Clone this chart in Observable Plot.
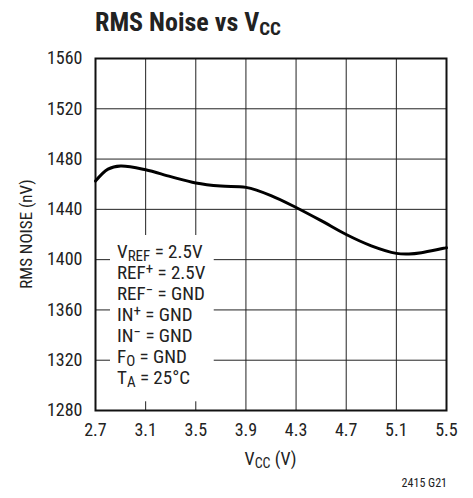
<!DOCTYPE html>
<html>
<head>
<meta charset="utf-8">
<script src="https://cdn.jsdelivr.net/npm/d3@7"></script>
<script src="https://cdn.jsdelivr.net/npm/@observablehq/plot@0.6"></script>
<style>
  html, body { margin: 0; padding: 0; background: #fff; }
  body { width: 473px; height: 498px; overflow: hidden; font-family: "Roboto Condensed", "Liberation Sans", sans-serif; }
  #title { position: relative; height: 44px; }
  #title span.t { position: absolute; left: 95px; top: 9px; font-size: 26px; line-height: 26px; font-weight: bold; color: #222; white-space: nowrap; }
  #title span.sub { font-size: 19px; vertical-align: -4px; }
</style>
</head>
<body>
<div id="title"><span class="t">RMS Noise vs V<span class="sub">CC</span></span></div>
<div id="chart"></div>
<script>
// ---- data ----
const vcc   = [2.7, 2.8, 2.9, 3.1, 3.3, 3.5, 3.7, 3.9, 4.1, 4.3, 4.5, 4.7, 4.9, 5.1, 5.2, 5.3, 5.5];
const noise = [1462.5, 1472, 1474.5, 1471.5, 1466, 1461, 1458.5, 1457.5, 1451, 1441.5, 1431, 1420, 1411, 1405, 1404.5, 1405.5, 1409.5];
const xTicks = [2.7, 3.1, 3.5, 3.9, 4.3, 4.7, 5.1, 5.5];
const yTicks = [1280, 1320, 1360, 1400, 1440, 1480, 1520, 1560];
const conditions = [
  [["V", ""], ["REF", "sub"], [" = 2.5V", ""]],
  [["REF", ""], ["+", "sup"], [" = 2.5V", ""]],
  [["REF", ""], ["\u2212", "sup"], [" = GND", ""]],
  [["IN", ""], ["+", "sup"], [" = GND", ""]],
  [["IN", ""], ["\u2212", "sup"], [" = GND", ""]],
  [["F", ""], ["O", "sub"], [" = GND", ""]],
  [["T", ""], ["A", "sub"], [" = 25\u00B0C", ""]]
];
const xLabel = [["V", ""], ["CC", "sub"], [" (V)", ""]];
const yLabel = "RMS NOISE (nV)";
const figNote = "2415 G21";

const data = vcc.map((v, i) => ({vcc: v, noise: noise[i]}));
const FONT = '"Roboto Condensed", "Liberation Sans", sans-serif';

const W = 473, H = 454, mL = 95, mR = 27, mT = 14, mB = 88;
const plot = Plot.plot({
  width: W, height: H,
  marginLeft: mL, marginRight: mR, marginTop: mT, marginBottom: mB,
  style: {fontFamily: FONT, fontSize: "18px", color: "#222", background: "#fff"},
  x: {domain: [2.7, 5.5], ticks: xTicks, tickSize: 0, tickPadding: 13, tickFormat: d => d.toFixed(1), label: null},
  y: {domain: [1280, 1560], ticks: yTicks, tickSize: 0, tickPadding: 13, tickFormat: d => String(d), label: null},
  marks: [
    Plot.gridX(xTicks, {stroke: "#222", strokeOpacity: 1, strokeWidth: 1}),
    Plot.gridY(yTicks, {stroke: "#222", strokeOpacity: 1, strokeWidth: 1}),
    Plot.frame({stroke: "#111", strokeWidth: 2}),
    Plot.line(data, {x: "vcc", y: "noise", curve: "catmull-rom", stroke: "#000", strokeWidth: 3})
  ]
});
document.getElementById("chart").appendChild(plot);

const svg = d3.select(plot);
function rich(sel, parts, size) {
  parts.forEach(([txt, kind]) => {
    const t = sel.append("tspan").text(txt);
    if (kind === "sub") t.attr("font-size", Math.round(size * 0.78)).attr("baseline-shift", "-22%");
    else if (kind === "sup") t.attr("font-size", Math.round(size * 0.78)).attr("baseline-shift", "36%");
  });
}

// conditions annotation with white mask
const ann = svg.append("g").attr("font-family", FONT).attr("font-size", 19).attr("fill", "#222").attr("text-anchor", "start");
conditions.forEach((line, i) => {
  const t = ann.append("text").attr("text-anchor", "start").attr("x", mL + 22).attr("y", 214 + i * 21);
  rich(t, line, 19);
});
const bb = ann.node().getBBox();
svg.insert("rect", function() { return ann.node(); })
  .attr("x", bb.x - 7).attr("y", bb.y - 5)
  .attr("width", bb.width + 15).attr("height", bb.height + 15)
  .attr("fill", "#fff");
// keep the curve on top
svg.node().appendChild(svg.select("g[aria-label='line']").node());

// axis labels
const xl = svg.append("text").attr("font-family", FONT).attr("font-size", 18).attr("fill", "#222")
  .attr("text-anchor", "middle").attr("x", (mL + W - mR) / 2).attr("y", 421);
rich(xl, xLabel, 18);
svg.append("text").attr("font-family", FONT).attr("font-size", 17).attr("fill", "#222")
  .attr("text-anchor", "middle").attr("transform", `translate(32, ${(mT + H - mB) / 2}) rotate(-90)`)
  .text(yLabel);
svg.append("text").attr("font-family", FONT).attr("font-size", 12).attr("fill", "#222")
  .attr("text-anchor", "end").attr("x", 447).attr("y", 443).text(figNote);
</script>
</body>
</html>
